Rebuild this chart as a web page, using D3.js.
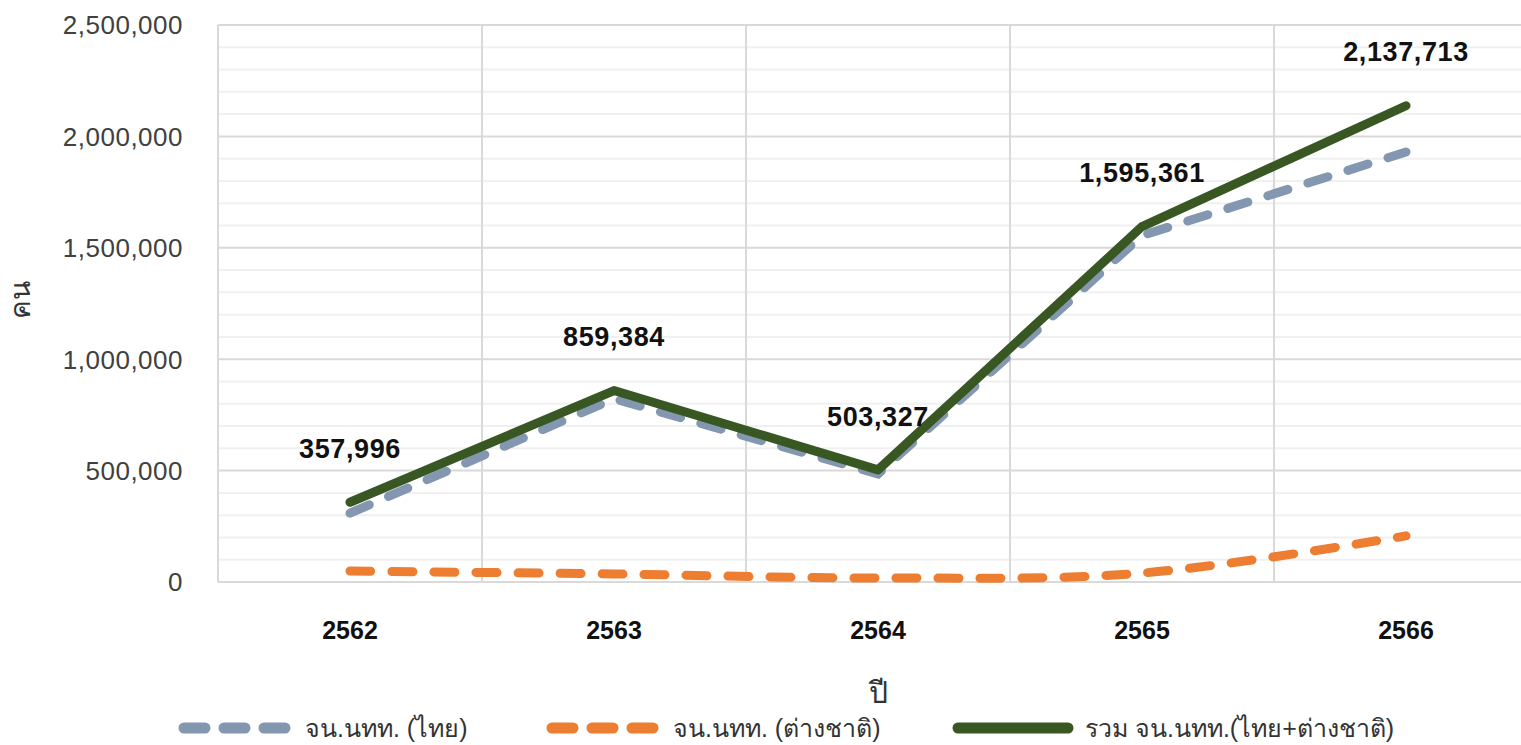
<!DOCTYPE html>
<html lang="th">
<head>
<meta charset="utf-8">
<title>นักท่องเที่ยว 2562-2566</title>
<script src="https://cdn.jsdelivr.net/npm/d3@7"></script>
<style>
  body { margin: 0; background: #fff; }
  svg text { font-family: "Liberation Sans", "DejaVu Sans", sans-serif; }
</style>
</head>
<body>
<svg id="chart" width="1521" height="745"></svg>
<script>
// ---------- data ----------
var years = ["2562", "2563", "2564", "2565", "2566"];
var thai = [309000, 823000, 485000, 1555000, 1930000];
var foreign = [49000, 36000, 18000, 40000, 207000];
var total = [357996, 859384, 503327, 1595361, 2137713];
var yTicks = [0, 500000, 1000000, 1500000, 2000000, 2500000];
var seriesNames = ["จน.นทท. (ไทย)", "จน.นทท. (ต่างชาติ)", "รวม จน.นทท.(ไทย+ต่างชาติ)"];

var colThai = "#8497B0", colForeign = "#ED7D31", colTotal = "#385723";

var svg = d3.select("#chart");

var x = d3.scaleBand().domain(years).range([218, 1538]).paddingInner(0).paddingOuter(0);
var y = d3.scaleLinear().domain([0, 2500000]).range([582, 25]);
var fmt = d3.format(",");

// ---------- grid ----------
var grid = svg.append("g");
grid.selectAll(".minor")
    .data(d3.range(100000, 2500000, 100000).filter(function(v) { return v % 500000 != 0; }))
    .enter().append("line")
    .attr("x1", 218).attr("x2", 1521)
    .attr("y1", function(d) { return y(d); }).attr("y2", function(d) { return y(d); })
    .attr("stroke", "#f0f0f0").attr("stroke-width", 2);

grid.selectAll(".vert")
    .data(years)
    .enter().append("line")
    .attr("x1", function(d) { return x(d); }).attr("x2", function(d) { return x(d); })
    .attr("y1", y(2500000)).attr("y2", y(0))
    .attr("stroke", "#d9d9d9").attr("stroke-width", 2);

grid.selectAll(".major")
    .data(yTicks)
    .enter().append("line")
    .attr("x1", 218).attr("x2", 1521)
    .attr("y1", function(d) { return y(d); }).attr("y2", function(d) { return y(d); })
    .attr("stroke", "#d9d9d9").attr("stroke-width", 2);

// ---------- axes text ----------
svg.append("g").selectAll("text")
    .data(yTicks)
    .enter().append("text")
    .attr("x", 183)
    .attr("y", function(d) { return y(d); })
    .attr("dy", "0.36em")
    .attr("text-anchor", "end")
    .attr("fill", "#404040")
    .style("font-size", "26px")
    .style("letter-spacing", "0.5px")
    .text(function(d) { return fmt(d); });

svg.append("g").selectAll("text")
    .data(years)
    .enter().append("text")
    .attr("x", function(d) { return x(d) + x.bandwidth() / 2; })
    .attr("y", 630)
    .attr("dy", "0.36em")
    .attr("text-anchor", "middle")
    .attr("fill", "#111")
    .style("font-weight", "bold")
    .style("font-size", "25px")
    .text(function(d) { return d; });

svg.append("text")
    .attr("transform", "translate(30,300) rotate(-90)")
    .attr("text-anchor", "middle")
    .attr("fill", "#333")
    .style("font-size", "28px")
    .text("คน");

svg.append("text")
    .attr("x", 878).attr("y", 703)
    .attr("text-anchor", "middle")
    .attr("fill", "#333")
    .style("font-size", "30px")
    .text("ปี");

// ---------- lines ----------
function lineFor(vals, curve) {
  return d3.line()
    .x(function(d, i) { return x(years[i]) + x.bandwidth() / 2; })
    .y(function(d) { return y(d); })
    .curve(curve)(vals);
}

svg.append("path")
    .attr("d", lineFor(foreign, d3.curveCatmullRom.alpha(0.5)))
    .attr("fill", "none").attr("stroke", colForeign)
    .attr("stroke-width", 9).attr("stroke-linecap", "round")
    .attr("stroke-dasharray", "21 21");

svg.append("path")
    .attr("d", lineFor(thai, d3.curveLinear))
    .attr("fill", "none").attr("stroke", colThai)
    .attr("stroke-width", 9).attr("stroke-linecap", "round")
    .attr("stroke-dasharray", "21 21");

svg.append("path")
    .attr("d", lineFor(total, d3.curveLinear))
    .attr("fill", "none").attr("stroke", colTotal)
    .attr("stroke-width", 9).attr("stroke-linecap", "round")
    .attr("stroke-linejoin", "round");

// ---------- data labels ----------
svg.append("g").selectAll("text")
    .data(total)
    .enter().append("text")
    .attr("x", function(d, i) { return x(years[i]) + x.bandwidth() / 2; })
    .attr("y", function(d) { return y(d) - 54; })
    .attr("dy", "0.36em")
    .attr("text-anchor", "middle")
    .attr("fill", "#111")
    .style("font-weight", "bold")
    .style("font-size", "27px")
    .style("letter-spacing", "0.6px")
    .text(function(d) { return fmt(d); });

// ---------- legend ----------
var legend = svg.append("g");
var legItems = [
  { x1: 184, x2: 288, tx: 305, col: colThai, dash: "21 19" },
  { x1: 552, x2: 656, tx: 673, col: colForeign, dash: "21 19" },
  { x1: 958, x2: 1068, tx: 1085, col: colTotal, dash: null }
];
legItems.forEach(function(it, i) {
  legend.append("line")
      .attr("x1", it.x1).attr("x2", it.x2)
      .attr("y1", 728).attr("y2", 728)
      .attr("stroke", it.col).attr("stroke-width", 11)
      .attr("stroke-linecap", "round")
      .attr("stroke-dasharray", it.dash);
  legend.append("text")
      .attr("x", it.tx).attr("y", 728)
      .attr("dy", "0.36em")
      .attr("fill", "#333")
      .style("font-size", "25px")
      .text(seriesNames[i]);
});
</script>
</body>
</html>
